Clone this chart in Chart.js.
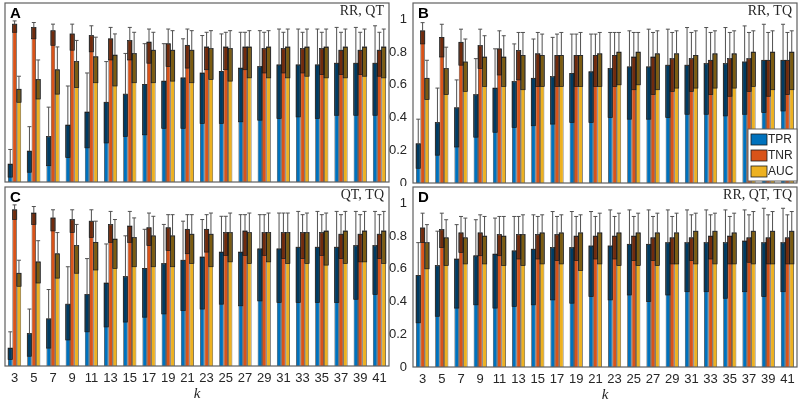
<!DOCTYPE html>
<html>
<head>
<meta charset="utf-8">
<script src="https://cdn.jsdelivr.net/npm/chart.js@4.4.1/dist/chart.umd.min.js"></script>
<style>
  html, body { margin: 0; padding: 0; background: #fff; }
  #wrap { position: relative; width: 800px; height: 401px; overflow: hidden; }
  canvas { position: absolute; }
</style>
</head>
<body>
<div id="wrap">
  <canvas id="pA" width="395" height="186" style="left:0;top:0"></canvas>
  <canvas id="pB" width="420" height="186" style="left:380px;top:0"></canvas>
  <canvas id="pC" width="395" height="215" style="left:0;top:186px"></canvas>
  <canvas id="pD" width="420" height="215" style="left:380px;top:186px"></canvas>
</div>
<script>
const ks = ['3','5','7','9','11','13','15','17','19','21','23','25','27','29','31','33','35','37','39','41']
const yTicks = [0, 0.2, 0.4, 0.6, 0.8, 1]
const yTickLabels = ['0', '0.2', '0.4', '0.6', '0.8', '1']
const seriesNames = ['TPR', 'TNR', 'AUC']
const seriesColors = ['#0072BD', '#D95319', '#EDB120']

// A: RR, QT
const aTPR   = [0.11,0.19,0.28,0.35,0.43,0.49,0.54,0.60,0.62,0.64,0.67,0.68,0.70,0.71,0.72,0.72,0.72,0.73,0.73,0.73]
const aTPRlo = [0.03,0.06,0.10,0.15,0.21,0.24,0.28,0.29,0.33,0.33,0.36,0.36,0.37,0.38,0.39,0.40,0.39,0.41,0.41,0.41]
const aTPRhi = [0.20,0.34,0.46,0.59,0.67,0.74,0.79,0.85,0.85,0.88,0.90,0.91,0.92,0.93,0.94,0.94,0.94,0.95,0.95,0.96]
const aTNR   = [0.97,0.95,0.93,0.91,0.90,0.88,0.87,0.86,0.85,0.84,0.83,0.83,0.83,0.82,0.82,0.82,0.82,0.81,0.81,0.81]
const aTNRlo = [0.92,0.88,0.84,0.81,0.80,0.75,0.75,0.73,0.71,0.70,0.69,0.69,0.69,0.67,0.67,0.67,0.66,0.66,0.66,0.65]
const aTNRhi = [0.99,0.98,0.97,0.97,0.96,0.95,0.95,0.94,0.94,0.94,0.92,0.92,0.92,0.92,0.92,0.92,0.92,0.92,0.92,0.92]
const aAUC   = [0.57,0.63,0.69,0.74,0.77,0.78,0.79,0.81,0.81,0.81,0.82,0.82,0.83,0.83,0.83,0.83,0.83,0.83,0.83,0.83]
const aAUClo = [0.49,0.51,0.54,0.58,0.61,0.59,0.61,0.61,0.62,0.61,0.63,0.62,0.64,0.64,0.64,0.65,0.64,0.64,0.65,0.64]
const aAUChi = [0.65,0.75,0.83,0.87,0.89,0.91,0.92,0.92,0.93,0.93,0.93,0.93,0.93,0.93,0.94,0.94,0.94,0.94,0.94,0.94]

// B: RR, TQ
const bTPR   = [0.24,0.37,0.46,0.54,0.58,0.62,0.64,0.65,0.67,0.68,0.70,0.71,0.71,0.72,0.72,0.73,0.73,0.74,0.75,0.75]
const bTPRlo = [0.09,0.17,0.22,0.28,0.31,0.34,0.35,0.36,0.37,0.37,0.40,0.39,0.39,0.40,0.42,0.42,0.41,0.42,0.43,0.44]
const bTPRhi = [0.39,0.58,0.63,0.76,0.82,0.85,0.88,0.89,0.91,0.91,0.92,0.93,0.94,0.94,0.95,0.95,0.95,0.96,0.97,0.97]
const bTNR   = [0.93,0.89,0.86,0.84,0.82,0.81,0.79,0.78,0.78,0.78,0.78,0.77,0.77,0.76,0.76,0.75,0.76,0.76,0.75,0.75]
const bTNRlo = [0.85,0.77,0.72,0.70,0.66,0.63,0.59,0.59,0.59,0.59,0.59,0.57,0.54,0.56,0.56,0.54,0.53,0.56,0.53,0.54]
const bTNRhi = [0.98,0.97,0.94,0.94,0.93,0.92,0.92,0.91,0.91,0.91,0.92,0.92,0.92,0.92,0.92,0.92,0.92,0.92,0.92,0.92]
const bAUC   = [0.64,0.70,0.74,0.77,0.77,0.78,0.78,0.78,0.78,0.79,0.80,0.80,0.79,0.79,0.78,0.79,0.79,0.80,0.80,0.80]
const bAUClo = [0.51,0.54,0.56,0.59,0.59,0.57,0.59,0.59,0.59,0.59,0.60,0.60,0.57,0.58,0.58,0.58,0.58,0.59,0.57,0.57]
const bAUChi = [0.75,0.83,0.88,0.90,0.90,0.92,0.91,0.92,0.92,0.92,0.92,0.92,0.93,0.93,0.93,0.93,0.93,0.93,0.93,0.93]

// C: QT, TQ
const cTPR   = [0.11,0.20,0.29,0.38,0.44,0.51,0.55,0.60,0.63,0.65,0.67,0.70,0.70,0.72,0.72,0.73,0.73,0.73,0.74,0.74]
const cTPRlo = [0.04,0.06,0.11,0.16,0.21,0.24,0.27,0.30,0.32,0.34,0.35,0.38,0.37,0.40,0.39,0.39,0.39,0.39,0.41,0.44]
const cTPRhi = [0.21,0.35,0.47,0.61,0.66,0.75,0.80,0.84,0.87,0.89,0.90,0.92,0.93,0.93,0.94,0.95,0.95,0.95,0.95,0.95]
const cTNR   = [0.96,0.94,0.91,0.90,0.89,0.87,0.86,0.85,0.85,0.84,0.84,0.82,0.83,0.82,0.82,0.82,0.82,0.81,0.81,0.81]
const cTNRlo = [0.90,0.87,0.83,0.82,0.79,0.76,0.76,0.74,0.71,0.69,0.70,0.68,0.68,0.68,0.66,0.66,0.68,0.66,0.64,0.66]
const cTNRhi = [0.99,0.98,0.96,0.96,0.96,0.95,0.95,0.94,0.93,0.93,0.93,0.92,0.93,0.93,0.94,0.93,0.93,0.93,0.93,0.93]
const cAUC   = [0.57,0.64,0.69,0.74,0.76,0.78,0.79,0.80,0.80,0.81,0.81,0.82,0.82,0.82,0.82,0.82,0.83,0.83,0.83,0.83]
const cAUClo = [0.49,0.51,0.54,0.57,0.59,0.60,0.61,0.61,0.61,0.63,0.61,0.64,0.63,0.64,0.63,0.63,0.62,0.63,0.64,0.63]
const cAUChi = [0.65,0.77,0.82,0.87,0.89,0.90,0.91,0.92,0.93,0.93,0.94,0.94,0.94,0.94,0.94,0.94,0.94,0.95,0.95,0.95]

// D: RR, QT, TQ
const dTPR   = [0.56,0.62,0.66,0.68,0.69,0.71,0.72,0.73,0.73,0.74,0.74,0.75,0.75,0.76,0.76,0.76,0.76,0.77,0.76,0.76]
const dTPRlo = [0.27,0.31,0.36,0.38,0.36,0.37,0.38,0.41,0.39,0.43,0.41,0.44,0.40,0.44,0.46,0.46,0.42,0.46,0.43,0.46]
const dTPRhi = [0.76,0.83,0.87,0.90,0.91,0.92,0.93,0.95,0.95,0.95,0.96,0.96,0.96,0.96,0.96,0.96,0.96,0.96,0.97,0.97]
const dTNR   = [0.85,0.84,0.82,0.82,0.81,0.81,0.81,0.81,0.80,0.80,0.80,0.80,0.79,0.79,0.79,0.80,0.80,0.79,0.79,0.79]
const dTNRlo = [0.76,0.73,0.70,0.68,0.68,0.66,0.66,0.65,0.65,0.66,0.66,0.65,0.65,0.63,0.65,0.66,0.63,0.64,0.63,0.63]
const dTNRhi = [0.94,0.94,0.92,0.93,0.92,0.92,0.92,0.92,0.92,0.92,0.92,0.92,0.92,0.92,0.93,0.93,0.92,0.93,0.93,0.93]
const dAUC   = [0.76,0.79,0.79,0.80,0.80,0.81,0.82,0.82,0.82,0.82,0.82,0.82,0.82,0.82,0.83,0.83,0.82,0.83,0.83,0.83]
const dAUClo = [0.60,0.62,0.63,0.63,0.62,0.62,0.63,0.63,0.59,0.63,0.62,0.62,0.62,0.63,0.63,0.63,0.63,0.63,0.63,0.63]
const dAUChi = [0.87,0.90,0.91,0.92,0.92,0.93,0.93,0.93,0.93,0.94,0.94,0.94,0.94,0.94,0.94,0.94,0.94,0.95,0.95,0.95]

const sans = "'Liberation Sans', Arial, sans-serif"
const serif = "'Liberation Serif', 'Times New Roman', serif"
const ink = '#262626'

// dark lower half of the error bar + whisker with cap
const errorBars = {
  id: 'errorBars',
  afterDatasetsDraw(chart) {
    const ctx = chart.ctx
    const y = chart.scales.y
    chart.data.datasets.forEach((ds, i) => {
      chart.getDatasetMeta(i).data.forEach((bar, j) => {
        const top = bar.y
        const lo = y.getPixelForValue(ds.lo[j])
        const hi = y.getPixelForValue(ds.hi[j])
        const w = bar.width
        ctx.save()
        ctx.fillStyle = 'rgba(0,0,0,0.48)'
        ctx.fillRect(bar.x - w / 2, top, w, lo - top)
        ctx.strokeStyle = '#1a1a1a'
        ctx.lineWidth = 0.7
        ctx.strokeRect(bar.x - w / 2, top, w, lo - top)
        ctx.strokeStyle = '#505050'
        ctx.lineWidth = 1
        ctx.beginPath()
        ctx.moveTo(bar.x, top)
        ctx.lineTo(bar.x, hi)
        ctx.moveTo(bar.x - 2, hi)
        ctx.lineTo(bar.x + 2, hi)
        ctx.stroke()
        ctx.restore()
      })
    })
  }
}

// axes box, tick labels, panel letter, feature tag, legend
const frame = {
  id: 'frame',
  afterDraw(chart, args, opts) {
    const ctx = chart.ctx
    const a = chart.chartArea
    const xs = chart.scales.x
    const ys = chart.scales.y
    ctx.save()
    ctx.strokeStyle = '#606060'
    ctx.lineWidth = 1.2
    ctx.strokeRect(a.left, a.top, a.right - a.left, a.bottom - a.top)

    ctx.fillStyle = ink
    ctx.font = '13px ' + sans
    if (opts.yLabels) {
      ctx.textAlign = 'right'
      ctx.textBaseline = 'middle'
      yTicks.forEach((v, i) => ctx.fillText(yTickLabels[i], a.left - 6, ys.getPixelForValue(v)))
    }
    if (opts.xLabels) {
      ctx.textAlign = 'center'
      ctx.textBaseline = 'middle'
      ks.forEach((k, i) => ctx.fillText(k, xs.getPixelForValue(i), a.bottom + 12))
      ctx.font = 'italic 15px ' + serif
      ctx.fillText('k', (a.left + a.right) / 2, a.bottom + 28)
    }

    ctx.fillStyle = '#000'
    ctx.font = 'bold 15px ' + sans
    ctx.textBaseline = 'alphabetic'
    ctx.textAlign = 'left'
    ctx.fillText(opts.letter, a.left + 5, a.top + 15)

    ctx.fillStyle = ink
    ctx.font = '14px ' + serif
    ctx.textAlign = 'right'
    ctx.fillText(opts.tag, a.right - 5, a.top + 12)

    if (opts.legend) {
      const lx = a.right - 49, ly = a.bottom - 54
      ctx.fillStyle = '#fff'
      ctx.fillRect(lx, ly, 49, 52)
      ctx.strokeStyle = '#606060'
      ctx.lineWidth = 1
      ctx.strokeRect(lx, ly, 49, 52)
      ctx.font = '12px ' + sans
      ctx.textAlign = 'left'
      ctx.textBaseline = 'middle'
      seriesNames.forEach((name, i) => {
        const cy = ly + 10 + i * 16
        ctx.fillStyle = seriesColors[i]
        ctx.fillRect(lx + 3, cy - 5, 16, 11)
        ctx.strokeStyle = '#1a1a1a'
        ctx.lineWidth = 0.8
        ctx.strokeRect(lx + 3, cy - 5, 16, 11)
        ctx.fillStyle = ink
        ctx.fillText(name, lx + 20, cy + 1)
      })
    }
    ctx.restore()
  }
}

function makePanel(id, vals, los, his, cfg) {
  const datasets = seriesNames.map((name, i) => ({
    label: name,
    data: vals[i],
    lo: los[i],
    hi: his[i],
    backgroundColor: seriesColors[i],
    borderColor: '#1a1a1a',
    borderWidth: 0.7,
    barPercentage: 1.0,
    categoryPercentage: 0.68
  }))

  new Chart(document.getElementById(id), {
    type: 'bar',
    data: { labels: ks, datasets: datasets },
    plugins: [errorBars, frame],
    options: {
      responsive: false,
      animation: false,
      layout: { padding: cfg.padding },
      scales: {
        x: { display: false },
        y: { display: false, min: 0, max: 1.1 }
      },
      plugins: {
        legend: { display: false },
        tooltip: { enabled: false },
        frame: cfg
      }
    }
  })
}

makePanel('pA', [aTPR, aTNR, aAUC], [aTPRlo, aTNRlo, aAUClo], [aTPRhi, aTNRhi, aAUChi],
  { letter: 'A', tag: 'RR, QT', padding: { left: 5, right: 6, top: 3, bottom: 4 } })

makePanel('pB', [bTPR, bTNR, bAUC], [bTPRlo, bTNRlo, bAUClo], [bTPRhi, bTNRhi, bAUChi],
  { letter: 'B', tag: 'RR, TQ', legend: true, yLabels: true, padding: { left: 33, right: 3, top: 3, bottom: 3 } })

makePanel('pC', [cTPR, cTNR, cAUC], [cTPRlo, cTNRlo, cAUClo], [cTPRhi, cTNRhi, cAUChi],
  { letter: 'C', tag: 'QT, TQ', xLabels: true, padding: { left: 5, right: 6, top: 1, bottom: 35 } })

makePanel('pD', [dTPR, dTNR, dAUC], [dTPRlo, dTNRlo, dAUClo], [dTPRhi, dTNRhi, dAUChi],
  { letter: 'D', tag: 'RR, QT, TQ', xLabels: true, yLabels: true, padding: { left: 33, right: 3, top: 1, bottom: 34 } })
</script>
</body>
</html>
